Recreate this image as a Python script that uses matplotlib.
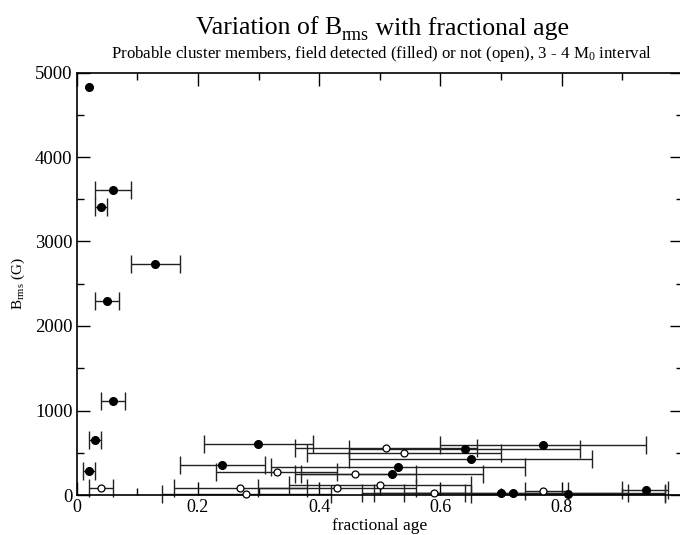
import numpy as np
import matplotlib
matplotlib.use("Agg")
import matplotlib.pyplot as plt
from matplotlib.ticker import MultipleLocator

plt.rcParams['font.family'] = ['Liberation Serif', 'DejaVu Serif']
plt.rcParams['mathtext.fontset'] = 'custom'
plt.rcParams['mathtext.rm'] = 'Liberation Serif'
plt.rcParams['mathtext.it'] = 'Liberation Serif:italic'

# Field detected (filled symbols)
det_age = [0.02, 0.06, 0.04, 0.13, 0.05, 0.06, 0.03, 0.02, 0.30, 0.24, 0.64, 0.77,
           0.65, 0.53, 0.52, 0.70, 0.72, 0.81, 0.94]
det_b = [4830, 3610, 3410, 2730, 2300, 1115, 645, 285, 605, 360, 540, 590,
         425, 335, 245, 20, 20, 12, 65]
det_lo = [0.02, 0.03, 0.03, 0.09, 0.03, 0.04, 0.02, 0.01, 0.21, 0.17, 0.45, 0.60,
          0.45, 0.32, 0.37, 0.49, 0.47, 0.65, 0.90]
det_hi = [0.02, 0.09, 0.05, 0.17, 0.07, 0.08, 0.04, 0.03, 0.39, 0.31, 0.83, 0.94,
          0.85, 0.74, 0.67, 0.91, 0.97, 0.97, 0.975]

# Not detected (open symbols)
nd_age = [0.04, 0.27, 0.28, 0.33, 0.43, 0.46, 0.50, 0.51, 0.54, 0.59, 0.77]
nd_b = [83, 86, 12, 270, 79, 245, 118, 560, 493, 20, 47]
nd_lo = [0.02, 0.16, 0.14, 0.23, 0.30, 0.36, 0.35, 0.36, 0.38, 0.54, 0.74]
nd_hi = [0.06, 0.38, 0.42, 0.43, 0.56, 0.56, 0.65, 0.66, 0.70, 0.64, 0.81]

W, H = 680, 535
fig = plt.figure(figsize=(W / 100, H / 100), dpi=100)
ax = fig.add_axes([76.7 / W, 40 / H, 606 / W, 422.5 / H])


def draw(age, b, lo, hi, filled):
    age = np.asarray(age); b = np.asarray(b)
    lo = np.asarray(lo); hi = np.asarray(hi)
    m = hi > lo
    ax.errorbar(age[m], b[m], xerr=[age[m] - lo[m], hi[m] - age[m]], fmt='none',
                ecolor='#222222', elinewidth=1.0, capsize=6.5, capthick=1.0,
                clip_on=False, zorder=2)
    ax.plot(age, b, 'o', ms=5.6 if filled else 5.0,
            mfc='black' if filled else 'white', mec='black', mew=0.9,
            clip_on=False, zorder=3)


draw(nd_age, nd_b, nd_lo, nd_hi, False)
draw(det_age, det_b, det_lo, det_hi, True)

ax.set_xlim(0, 1)
ax.set_ylim(0, 5000)
ax.xaxis.set_major_locator(MultipleLocator(0.2))
ax.xaxis.set_minor_locator(MultipleLocator(0.1))
ax.yaxis.set_major_locator(MultipleLocator(1000))
ax.yaxis.set_minor_locator(MultipleLocator(500))
ax.xaxis.set_major_formatter(plt.FuncFormatter(lambda v, p: f"{v:g}"))
ax.tick_params(which='both', direction='in', top=True, right=True,
               width=1.0, colors='black')
ax.tick_params(axis='x', labelsize=13)
ax.tick_params(axis='y', labelsize=13.5)
ax.tick_params(which='major', length=9.5, pad=3)
ax.tick_params(which='minor', length=5)
for s in ax.spines.values():
    s.set_linewidth(1.2)

ax.set_xlabel('fractional age', fontsize=12.5, labelpad=1)
ax.set_ylabel(r'B$_{\rm rms}$ (G)', fontsize=11, labelpad=6)

# Title built from pieces so the subscript sits low, as in the reference
renderer = fig.canvas.get_renderer()
pieces = [('Variation of B', 18.5, 0), ('rms', 13, -5.5), (' with fractional age', 18.5, 0)]
xpos = 196.0
base = H - 34.5
for txt, fs, dy in pieces:
    t = fig.text(xpos / W, (base + dy) / H, txt, fontsize=fs, ha='left', va='baseline')
    bb = t.get_window_extent(renderer)
    xpos += bb.width

fig.text(381 / W, 1 - 58.5 / H,
         r'Probable cluster members, field detected (filled) or not (open), 3 - 4 M$_0$ interval',
         ha='center', va='baseline', fontsize=12.2)

fig.savefig('out.png', dpi=100)
